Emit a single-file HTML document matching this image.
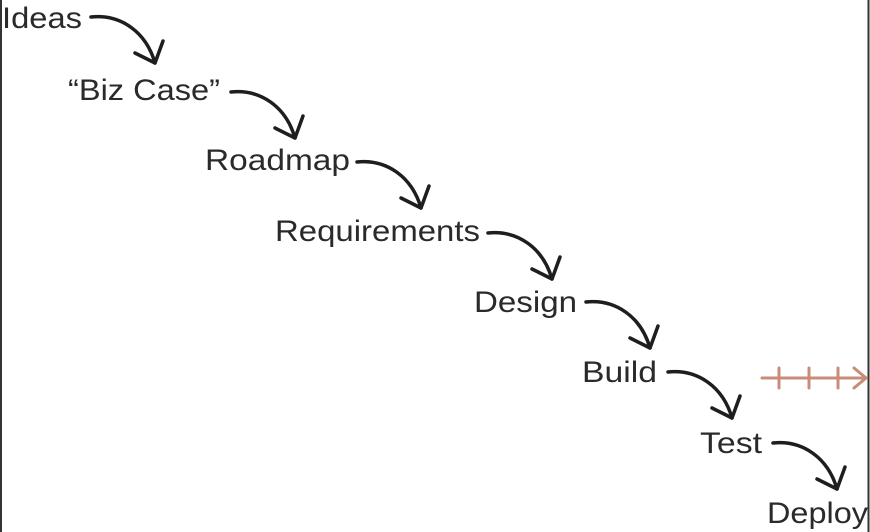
<!DOCTYPE html>
<html><head><style>html,body{margin:0;padding:0;background:#fff}svg{display:block}</style></head>
<body>
<svg width="870" height="532" viewBox="0 0 870 532" xmlns="http://www.w3.org/2000/svg">
<defs>
<g id="a"><path d="M0 0 C30 -3 55 15 64 46"/><path d="M44 36 L64 46 L72 24"/></g>
</defs>
<rect width="870" height="532" fill="#fff"/>
<line x1="1" y1="0" x2="1" y2="532" stroke="#333" stroke-width="2"/>
<line x1="868.5" y1="0" x2="868.5" y2="532" stroke="#333" stroke-width="2"/>
<g font-family="Liberation Sans, sans-serif" font-size="30" fill="#2a2a2a">
<text x="2" y="28" textLength="80" lengthAdjust="spacingAndGlyphs">Ideas</text>
<text x="68" y="100" textLength="152" lengthAdjust="spacingAndGlyphs">“Biz Case”</text>
<text x="205" y="170" textLength="145" lengthAdjust="spacingAndGlyphs">Roadmap</text>
<text x="275" y="241" textLength="205" lengthAdjust="spacingAndGlyphs">Requirements</text>
<text x="474" y="312" textLength="103" lengthAdjust="spacingAndGlyphs">Design</text>
<text x="582" y="382" textLength="75" lengthAdjust="spacingAndGlyphs">Build</text>
<text x="700" y="453" textLength="62" lengthAdjust="spacingAndGlyphs">Test</text>
<text x="767" y="523" textLength="101" lengthAdjust="spacingAndGlyphs">Deploy</text>
</g>
<g fill="none" stroke="#1e1e1e" stroke-width="3.5" stroke-linecap="round" stroke-linejoin="round">
<use href="#a" transform="translate(91,17)"/>
<use href="#a" transform="translate(231,92)"/>
<use href="#a" transform="translate(357,162)"/>
<use href="#a" transform="translate(488,233)"/>
<use href="#a" transform="translate(586,302)"/>
<use href="#a" transform="translate(668,372)"/>
<use href="#a" transform="translate(773,443)"/>
</g>
<g fill="none" stroke="#c98c78" stroke-width="3" stroke-linecap="round">
<line x1="762" y1="378" x2="866" y2="378"/>
<line x1="779" y1="368" x2="779" y2="388"/>
<line x1="809" y1="368" x2="809" y2="388"/>
<line x1="838" y1="368" x2="838" y2="388"/>
<path d="M854 368 L866 378 L854 388"/>
</g>
</svg>
</body></html>
